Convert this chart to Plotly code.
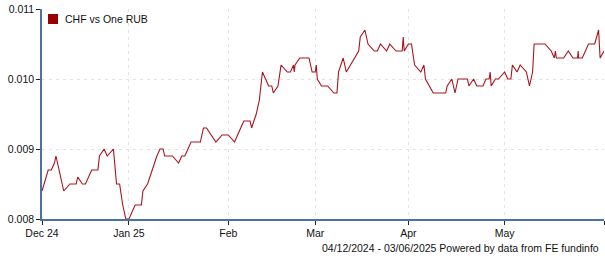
import plotly.graph_objects as go

series_name = "CHF vs One RUB"
footer_text = "04/12/2024 - 03/06/2025 Powered by data from FE fundinfo"

dates = [
    "2024-12-04", "2024-12-06", "2024-12-07", "2024-12-08", "2024-12-08 12:00",
    "2024-12-11", "2024-12-13", "2024-12-15", "2024-12-15 12:00", "2024-12-17",
    "2024-12-18", "2024-12-20", "2024-12-22", "2024-12-22 12:00", "2024-12-24",
    "2024-12-25", "2024-12-27", "2024-12-28", "2024-12-29", "2024-12-30",
    "2024-12-31", "2025-01-01", "2025-01-03", "2025-01-05", "2025-01-05 12:00",
    "2025-01-07", "2025-01-10", "2025-01-11", "2025-01-12", "2025-01-12 12:00",
    "2025-01-15", "2025-01-17", "2025-01-18", "2025-01-19", "2025-01-21",
    "2025-01-24", "2025-01-25", "2025-01-26", "2025-01-29", "2025-01-31",
    "2025-02-02", "2025-02-04", "2025-02-06", "2025-02-07", "2025-02-09",
    "2025-02-09 12:00", "2025-02-11", "2025-02-12", "2025-02-13", "2025-02-15",
    "2025-02-16", "2025-02-16 12:00", "2025-02-18", "2025-02-19", "2025-02-21",
    "2025-02-22", "2025-02-23", "2025-02-23 06:00", "2025-02-23 12:00", "2025-02-25",
    "2025-02-28", "2025-03-01", "2025-03-02", "2025-03-02 08:00", "2025-03-02 16:00",
    "2025-03-04", "2025-03-06", "2025-03-08", "2025-03-09", "2025-03-09 12:00",
    "2025-03-11", "2025-03-12", "2025-03-16", "2025-03-16 12:00", "2025-03-18",
    "2025-03-19", "2025-03-21", "2025-03-22", "2025-03-23", "2025-03-25",
    "2025-03-26", "2025-03-28", "2025-03-30", "2025-03-30 08:00", "2025-03-30 16:00",
    "2025-04-01", "2025-04-02", "2025-04-03", "2025-04-05", "2025-04-06",
    "2025-04-06 12:00", "2025-04-09", "2025-04-13", "2025-04-13 12:00", "2025-04-15",
    "2025-04-16", "2025-04-17", "2025-04-20", "2025-04-20 12:00", "2025-04-22",
    "2025-04-23", "2025-04-25", "2025-04-26", "2025-04-27", "2025-04-27 08:00",
    "2025-04-27 16:00", "2025-04-29", "2025-04-30", "2025-05-02", "2025-05-03",
    "2025-05-04", "2025-05-04 12:00", "2025-05-06", "2025-05-07", "2025-05-09",
    "2025-05-10", "2025-05-11", "2025-05-11 12:00", "2025-05-15", "2025-05-17",
    "2025-05-18", "2025-05-18 08:00", "2025-05-18 16:00", "2025-05-21", "2025-05-22 12:00",
    "2025-05-24", "2025-05-25 12:00", "2025-05-25 16:00", "2025-05-25 20:00", "2025-05-27",
    "2025-05-29", "2025-05-31", "2025-06-01 06:00", "2025-06-01 18:00", "2025-06-03",
]

values = [
    0.0084, 0.0087, 0.0087, 0.0088, 0.0089,
    0.0084, 0.0085, 0.0085, 0.0086, 0.0085,
    0.0085, 0.0087, 0.0087, 0.0089, 0.0090,
    0.0089, 0.0090, 0.0085, 0.0085, 0.0082,
    0.0080, 0.0080, 0.0082, 0.0082, 0.0084,
    0.0085, 0.0089, 0.0090, 0.0090, 0.0089,
    0.0089, 0.0088, 0.0089, 0.0089, 0.0091,
    0.0091, 0.0093, 0.0093, 0.0091, 0.0092,
    0.0092, 0.0091, 0.0093, 0.0094, 0.0094,
    0.0093, 0.0095, 0.0097, 0.0101, 0.0099,
    0.0099, 0.0098, 0.0099, 0.0102, 0.0101,
    0.0101, 0.0102, 0.0101, 0.0102, 0.0103,
    0.0103, 0.0101, 0.0101, 0.0102, 0.0100,
    0.0099, 0.0099, 0.0098, 0.0098, 0.0101,
    0.0103, 0.0101, 0.0104, 0.0106, 0.0107,
    0.0105, 0.0104, 0.0104, 0.0105, 0.0104,
    0.0105, 0.0104, 0.0104, 0.0106, 0.0104,
    0.0105, 0.0105, 0.0102, 0.0101, 0.0102,
    0.0100, 0.0098, 0.0098, 0.0099, 0.0100,
    0.0098, 0.0100, 0.0100, 0.0099, 0.0100,
    0.0099, 0.0099, 0.0100, 0.0100, 0.0101,
    0.0099, 0.0100, 0.0100, 0.0101, 0.0100,
    0.0100, 0.0102, 0.0101, 0.0102, 0.0101,
    0.0099, 0.0101, 0.0105, 0.0105, 0.0104,
    0.0103, 0.0104, 0.0103, 0.0103, 0.0104,
    0.0103, 0.0103, 0.0104, 0.0103, 0.0103,
    0.0105, 0.0105, 0.0107, 0.0103, 0.0104,
]

x_tick_dates = ["2024-12-04", "2025-01-01", "2025-02-02", "2025-03-02",
                "2025-04-01", "2025-05-02", "2025-06-03"]
x_tick_labels = ["Dec 24", "Jan 25", "Feb", "Mar", "Apr", "May", ""]
x_range = ["2024-12-04", "2025-06-03"]
y_ticks = [0.008, 0.009, 0.010, 0.011]
y_range = [0.008, 0.011]

LINE_COLOR = "#a8141e"
AXIS_COLOR = "#4a72a6"
GRID_COLOR = "#e2e2e2"
FONT = "Liberation Sans, Arial, sans-serif"
FS = 10.5

fig = go.Figure()
fig.add_trace(go.Scatter(
    x=dates, y=values, mode="lines", name=series_name,
    line=dict(color=LINE_COLOR, width=1.1), showlegend=False,
))

fig.update_layout(
    width=605, height=260,
    margin=dict(l=42, r=1, t=9, b=41),
    paper_bgcolor="white", plot_bgcolor="white",
    font=dict(family=FONT, size=FS, color="#111"),
    showlegend=False,
)
fig.update_xaxes(
    type="date", range=x_range,
    tickvals=x_tick_dates, ticktext=x_tick_labels,
    showline=True, linecolor=AXIS_COLOR, linewidth=1.5,
    ticks="outside", ticklen=4, tickcolor="#222", tickwidth=1,
    showgrid=True, gridcolor=GRID_COLOR, griddash="3px,4px", gridwidth=1,
    zeroline=False, tickfont=dict(size=FS),
)
fig.update_yaxes(
    range=y_range, tickvals=y_ticks, tickformat=".3f",
    showline=True, linecolor=AXIS_COLOR, linewidth=1.5,
    ticks="outside", ticklen=4, tickcolor="#222", tickwidth=1,
    showgrid=True, gridcolor=GRID_COLOR, griddash="3px,4px", gridwidth=1,
    zeroline=False, tickfont=dict(size=FS),
)

# legend drawn manually (square swatch + label)
fig.add_shape(type="rect", xref="paper", yref="paper",
              x0=6 / 562, x1=16 / 562, y0=1 - 15 / 210, y1=1 - 5 / 210,
              fillcolor="#990000", line=dict(width=0))
fig.add_annotation(text=series_name, xref="paper", yref="paper",
                   x=21 / 562, y=1 - 10 / 210, xanchor="left", yanchor="middle",
                   showarrow=False, font=dict(size=FS, color="#111"))
fig.add_annotation(text=footer_text, xref="paper", yref="paper",
                   x=1, y=-29 / 210, xanchor="right", yanchor="middle", xshift=-3,
                   showarrow=False, font=dict(size=FS, color="#111"))

fig.write_html("out.html")
